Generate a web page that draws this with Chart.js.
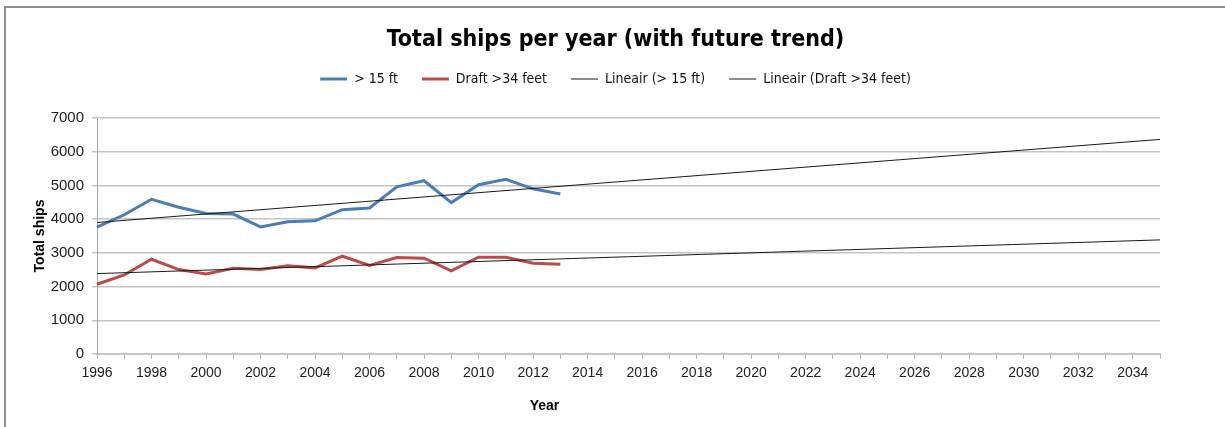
<!DOCTYPE html>
<html>
<head>
<meta charset="utf-8">
<title>Total ships per year</title>
<script src="https://cdn.jsdelivr.net/npm/chart.js@4.4.1/dist/chart.umd.min.js"></script>
<style>
    html, body { margin: 0; padding: 0; background: #fff; }
    #wrap { position: relative; width: 1225px; height: 427px; }
    #frame {
        position: absolute; left: 4px; top: 6px; right: -10px; bottom: -10px;
        border-left: 2px solid #8e8e8e; border-top: 2px solid #8e8e8e;
        pointer-events: none;
    }
</style>
</head>
<body>
<div id="wrap">
    <canvas id="shipsChart" width="1225" height="427"></canvas>
    <div id="frame"></div>
</div>
<script>
// Years on the axis: measured 1996-2013, trend runs on to 2035
const years = [];
for (let y = 1996; y <= 2035; y++) years.push(String(y));

// Ships per year, 1996-2013
const shipsOver15ft = [3760, 4130, 4590, 4355, 4170, 4150, 3770, 3920, 3950, 4280, 4330, 4960, 5140, 4490, 5020, 5180, 4900, 4745];
const shipsDraft34 = [2070, 2345, 2810, 2505, 2375, 2545, 2505, 2615, 2555, 2900, 2625, 2860, 2840, 2465, 2870, 2870, 2695, 2665];

// Linear trend lines, start and end
const trendYears = ['1996', '2035'];
const trendOver15ft = [3900, 6365];
const trendDraft34 = [2385, 3385];

const yTicks = { min: 0, max: 7000, step: 1000 };

const FONT = "'Liberation Sans', Arial, sans-serif";
const NARROW = "'DejaVu Sans Condensed', 'Liberation Sans', sans-serif";

const toPoints = (xs, ys) => xs.map((x, i) => ({ x, y: ys[i] }));

// push the plot down a bit below the legend
const legendGap = {
    id: 'legendGap',
    beforeInit(chart) {
        const fit = chart.legend.fit;
        chart.legend.fit = function () {
            fit.call(this);
            this.height += 22;
        };
    }
};

// "Year" sits left of the plot centre
const xTitle = {
    id: 'xTitle',
    afterDraw(chart) {
        const { ctx, chartArea } = chart;
        ctx.save();
        ctx.font = "bold 14px " + FONT;
        ctx.fillStyle = '#000';
        ctx.textAlign = 'center';
        ctx.textBaseline = 'middle';
        ctx.fillText('Year', chartArea.left + (chartArea.right - chartArea.left) * 0.421, 406);
        ctx.restore();
    }
};

new Chart(document.getElementById('shipsChart'), {
    type: 'line',
    data: {
        labels: years,
        datasets: [
            {
                label: '> 15 ft',
                data: shipsOver15ft,
                borderColor: '#4a7ebb',
                backgroundColor: '#4a7ebb',
                borderWidth: 3,
                pointRadius: 0,
                tension: 0
            },
            {
                label: 'Draft >34 feet',
                data: shipsDraft34,
                borderColor: '#be4b48',
                backgroundColor: '#be4b48',
                borderWidth: 3,
                pointRadius: 0,
                tension: 0
            },
            {
                label: 'Lineair (> 15 ft)',
                data: toPoints(trendYears, trendOver15ft),
                borderColor: '#1a1a1a',
                backgroundColor: '#1a1a1a',
                borderWidth: 1,
                pointRadius: 0,
                order: -1
            },
            {
                label: 'Lineair (Draft >34 feet)',
                data: toPoints(trendYears, trendDraft34),
                borderColor: '#1a1a1a',
                backgroundColor: '#1a1a1a',
                borderWidth: 1,
                pointRadius: 0,
                order: -1
            }
        ]
    },
    options: {
        responsive: false,
        animation: false,
        layout: { padding: { top: 10, left: 6, right: 0, bottom: 0 } },
        plugins: {
            title: {
                display: true,
                text: 'Total ships per year (with future trend)',
                color: '#000',
                font: { family: NARROW, size: 23, weight: 'bold', lineHeight: 1 },
                padding: { top: 19, bottom: -4 }
            },
            legend: {
                position: 'top',
                labels: {
                    usePointStyle: true,
                    pointStyle: 'line',
                    pointStyleWidth: 27,
                    padding: 24,
                    color: '#111',
                    font: { family: NARROW, size: 14 },
                    sort: (a, b) => a.datasetIndex - b.datasetIndex
                }
            },
            tooltip: { enabled: false }
        },
        scales: {
            x: {
                type: 'category',
                offset: false,
                afterFit: (scale) => { scale.height = 73; },
                grid: {
                    display: true,
                    drawOnChartArea: false,
                    drawTicks: true,
                    tickLength: 5,
                    color: '#b9b9b9'
                },
                border: { color: '#c4c4c4', width: 2 },
                ticks: {
                    autoSkip: false,
                    maxRotation: 0,
                    padding: 6,
                    color: '#222',
                    font: { family: FONT, size: 14 },
                    callback: function (value, index) {
                        return index % 2 === 0 ? this.getLabelForValue(value) : '';
                    }
                }
            },
            y: {
                min: yTicks.min,
                max: yTicks.max,
                afterFit: (scale) => { scale.width = 91; },
                grid: {
                    color: '#c4c4c4',
                    lineWidth: 1.5,
                    tickLength: 5
                },
                border: { color: '#a8a8a8', width: 1 },
                ticks: {
                    stepSize: yTicks.step,
                    padding: 8,
                    color: '#222',
                    font: { family: FONT, size: 15 },
                    callback: (value) => String(value)
                },
                title: {
                    display: true,
                    text: 'Total ships',
                    color: '#000',
                    font: { family: FONT, size: 14, weight: 'bold' },
                    padding: { top: 26, bottom: 0 }
                }
            },
            // empty right-hand axis, keeps the plot clear of the right edge
            yRight: {
                position: 'right',
                display: true,
                afterFit: (scale) => { scale.width = 65; },
                grid: { display: false },
                border: { display: false },
                ticks: { display: false }
            }
        }
    },
    plugins: [legendGap, xTitle]
});
</script>
</body>
</html>
